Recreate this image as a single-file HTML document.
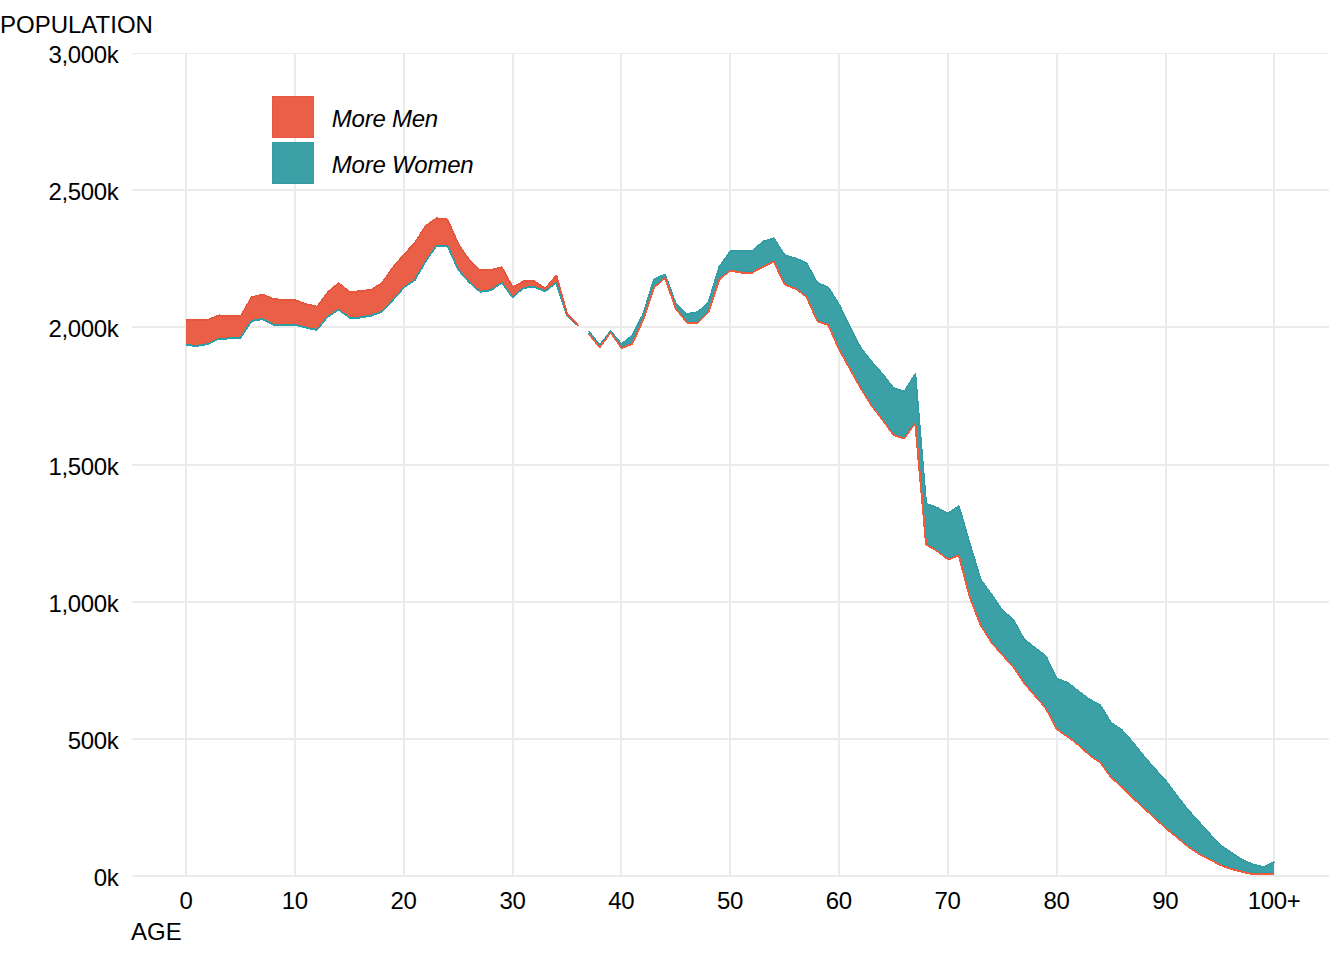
<!DOCTYPE html>
<html><head><meta charset="utf-8"><style>
html,body{margin:0;padding:0;background:#fff;width:1344px;height:960px;overflow:hidden;position:relative}
body{font-family:"Liberation Sans",sans-serif;color:#000}
.yl,.xl,.t{position:absolute;white-space:nowrap;line-height:0}
.yl{right:1225.5px;font-size:24px;text-align:right;height:0;letter-spacing:-0.34px}
.xl{top:901px;width:120px;text-align:center;font-size:24px;height:0;letter-spacing:-0.34px}
.t{font-size:24px;height:0}
.lg{position:absolute;font-size:24px;font-style:italic;line-height:0;height:0;white-space:nowrap;letter-spacing:-0.25px}
</style></head><body>
<svg width="1344" height="960" viewBox="0 0 1344 960" style="position:absolute;left:0;top:0"><defs><clipPath id="pc"><rect x="132" y="53" width="1197" height="824"/></clipPath></defs><g clip-path="url(#pc)" shape-rendering="crispEdges"><rect x="132" y="52" width="1197" height="2" fill="#EBEBEB"/><rect x="132" y="189" width="1197" height="2" fill="#EBEBEB"/><rect x="132" y="326" width="1197" height="2" fill="#EBEBEB"/><rect x="132" y="464" width="1197" height="2" fill="#EBEBEB"/><rect x="132" y="601" width="1197" height="2" fill="#EBEBEB"/><rect x="132" y="738" width="1197" height="2" fill="#EBEBEB"/><rect x="132" y="875" width="1197" height="2" fill="#EBEBEB"/><rect x="185" y="53" width="2" height="824" fill="#EBEBEB"/><rect x="294" y="53" width="2" height="824" fill="#EBEBEB"/><rect x="403" y="53" width="2" height="824" fill="#EBEBEB"/><rect x="512" y="53" width="2" height="824" fill="#EBEBEB"/><rect x="620" y="53" width="2" height="824" fill="#EBEBEB"/><rect x="729" y="53" width="2" height="824" fill="#EBEBEB"/><rect x="838" y="53" width="2" height="824" fill="#EBEBEB"/><rect x="947" y="53" width="2" height="824" fill="#EBEBEB"/><rect x="1056" y="53" width="2" height="824" fill="#EBEBEB"/><rect x="1165" y="53" width="2" height="824" fill="#EBEBEB"/><rect x="1273" y="53" width="2" height="824" fill="#EBEBEB"/></g><g clip-path="url(#pc)" stroke-linejoin="round" stroke-linecap="butt" fill="none" shape-rendering="crispEdges"><polygon points="186.30,320.10 197.18,320.10 208.06,319.70 218.94,315.40 229.82,316.30 240.70,316.10 251.58,297.30 262.46,294.50 273.34,298.90 284.22,300.20 295.10,300.20 305.98,304.20 316.86,306.70 327.74,292.20 338.62,283.00 349.50,292.00 360.38,291.30 371.26,289.80 382.14,282.90 393.02,267.30 403.90,254.50 414.78,243.10 425.66,225.80 436.54,218.40 447.42,219.40 458.30,244.10 469.18,259.90 480.06,270.30 490.94,270.10 501.82,267.30 512.70,287.30 523.58,281.30 534.46,281.30 545.34,288.50 556.22,275.30 567.10,314.00 577.98,325.60 577.98,325.80 567.10,315.30 556.22,282.70 545.34,291.40 534.46,286.90 523.58,287.80 512.70,297.50 501.82,282.80 490.94,290.30 480.06,291.70 469.18,282.20 458.30,269.80 447.42,245.80 436.54,245.80 425.66,261.40 414.78,280.20 403.90,287.60 393.02,300.00 382.14,311.60 371.26,315.60 360.38,317.50 349.50,317.50 338.62,309.80 327.74,316.70 316.86,330.00 305.98,327.60 295.10,324.90 284.22,324.90 273.34,324.90 262.46,319.20 251.58,320.90 240.70,337.70 229.82,338.40 218.94,338.80 208.06,343.90 197.18,345.90 186.30,345.00" fill="#EA5F47"/><path d="M186.30,343.00L197.18,343.90L197.18,345.90L186.30,345.00ZM197.18,343.90L208.06,341.90L208.06,343.90L197.18,345.90ZM208.06,341.90L218.94,336.80L218.94,338.80L208.06,343.90ZM218.94,336.80L229.82,336.40L229.82,338.40L218.94,338.80ZM229.82,336.40L240.70,335.70L240.70,337.70L229.82,338.40ZM239.70,336.70L250.58,319.90L252.58,319.90L241.70,336.70ZM251.58,318.90L262.46,317.20L262.46,319.20L251.58,320.90ZM262.46,317.20L273.34,322.90L273.34,324.90L262.46,319.20ZM273.34,322.90L284.22,322.90L284.22,324.90L273.34,324.90ZM284.22,322.90L295.10,322.90L295.10,324.90L284.22,324.90ZM295.10,322.90L305.98,325.60L305.98,327.60L295.10,324.90ZM305.98,325.60L316.86,328.00L316.86,330.00L305.98,327.60ZM315.86,329.00L326.74,315.70L328.74,315.70L317.86,329.00ZM327.74,314.70L338.62,307.80L338.62,309.80L327.74,316.70ZM338.62,307.80L349.50,315.50L349.50,317.50L338.62,309.80ZM349.50,315.50L360.38,315.50L360.38,317.50L349.50,317.50ZM360.38,315.50L371.26,313.60L371.26,315.60L360.38,317.50ZM371.26,313.60L382.14,309.60L382.14,311.60L371.26,315.60ZM381.14,310.60L392.02,299.00L394.02,299.00L383.14,310.60ZM392.02,299.00L402.90,286.60L404.90,286.60L394.02,299.00ZM403.90,285.60L414.78,278.20L414.78,280.20L403.90,287.60ZM413.78,279.20L424.66,260.40L426.66,260.40L415.78,279.20ZM424.66,260.40L435.54,244.80L437.54,244.80L426.66,260.40ZM436.54,243.80L447.42,243.80L447.42,245.80L436.54,245.80ZM446.42,244.80L457.30,268.80L459.30,268.80L448.42,244.80ZM457.30,268.80L468.18,281.20L470.18,281.20L459.30,268.80ZM469.18,280.20L480.06,289.70L480.06,291.70L469.18,282.20ZM480.06,289.70L490.94,288.30L490.94,290.30L480.06,291.70ZM490.94,288.30L501.82,280.80L501.82,282.80L490.94,290.30ZM500.82,281.80L511.70,296.50L513.70,296.50L502.82,281.80ZM512.70,295.50L523.58,285.80L523.58,287.80L512.70,297.50ZM523.58,285.80L534.46,284.90L534.46,286.90L523.58,287.80ZM534.46,284.90L545.34,289.40L545.34,291.40L534.46,286.90ZM545.34,289.40L556.22,280.70L556.22,282.70L545.34,291.40ZM555.22,281.70L566.10,314.30L568.10,314.30L557.22,281.70ZM567.10,313.30L577.98,323.80L577.98,325.80L567.10,315.30Z" fill="#F25A3C"/><polyline points="186.30,344.00 197.18,344.90 208.06,342.90 218.94,337.80 229.82,337.40 240.70,336.70 251.58,319.90 262.46,318.20 273.34,323.90 284.22,323.90 295.10,323.90 305.98,326.60 316.86,329.00 327.74,315.70 338.62,308.80 349.50,316.50 360.38,316.50 371.26,314.60 382.14,310.60 393.02,299.00 403.90,286.60 414.78,279.20 425.66,260.40 436.54,244.80 447.42,244.80 458.30,268.80 469.18,281.20 480.06,290.70 490.94,289.30 501.82,281.80 512.70,296.50 523.58,286.80 534.46,285.90 545.34,290.40 556.22,281.70 567.10,314.30 577.98,324.80" fill="none" stroke="#F25A3C" stroke-width="1.6" stroke-linejoin="round"/><path d="M186.30,344.00L197.18,344.90L197.18,346.90L186.30,346.00ZM197.18,344.90L208.06,342.90L208.06,344.90L197.18,346.90ZM208.06,342.90L218.94,337.80L218.94,339.80L208.06,344.90ZM218.94,337.80L229.82,337.40L229.82,339.40L218.94,339.80ZM229.82,337.40L240.70,336.70L240.70,338.70L229.82,339.40ZM239.70,337.70L250.58,320.90L252.58,320.90L241.70,337.70ZM251.58,319.90L262.46,318.20L262.46,320.20L251.58,321.90ZM262.46,318.20L273.34,323.90L273.34,325.90L262.46,320.20ZM273.34,323.90L284.22,323.90L284.22,325.90L273.34,325.90ZM284.22,323.90L295.10,323.90L295.10,325.90L284.22,325.90ZM295.10,323.90L305.98,326.60L305.98,328.60L295.10,325.90ZM305.98,326.60L316.86,329.00L316.86,331.00L305.98,328.60ZM315.86,330.00L326.74,316.70L328.74,316.70L317.86,330.00ZM327.74,315.70L338.62,308.80L338.62,310.80L327.74,317.70ZM338.62,308.80L349.50,316.50L349.50,318.50L338.62,310.80ZM349.50,316.50L360.38,316.50L360.38,318.50L349.50,318.50ZM360.38,316.50L371.26,314.60L371.26,316.60L360.38,318.50ZM371.26,314.60L382.14,310.60L382.14,312.60L371.26,316.60ZM381.14,311.60L392.02,300.00L394.02,300.00L383.14,311.60ZM392.02,300.00L402.90,287.60L404.90,287.60L394.02,300.00ZM403.90,286.60L414.78,279.20L414.78,281.20L403.90,288.60ZM413.78,280.20L424.66,261.40L426.66,261.40L415.78,280.20ZM424.66,261.40L435.54,245.80L437.54,245.80L426.66,261.40ZM436.54,244.80L447.42,244.80L447.42,246.80L436.54,246.80ZM446.42,245.80L457.30,269.80L459.30,269.80L448.42,245.80ZM457.30,269.80L468.18,282.20L470.18,282.20L459.30,269.80ZM469.18,281.20L480.06,290.70L480.06,292.70L469.18,283.20ZM480.06,290.70L490.94,289.30L490.94,291.30L480.06,292.70ZM490.94,289.30L501.82,281.80L501.82,283.80L490.94,291.30ZM500.82,282.80L511.70,297.50L513.70,297.50L502.82,282.80ZM512.70,296.50L523.58,286.80L523.58,288.80L512.70,298.50ZM523.58,286.80L534.46,285.90L534.46,287.90L523.58,288.80ZM534.46,285.90L545.34,290.40L545.34,292.40L534.46,287.90ZM545.34,290.40L556.22,281.70L556.22,283.70L545.34,292.40ZM555.22,282.70L566.10,315.30L568.10,315.30L557.22,282.70ZM567.10,314.30L577.98,324.80L577.98,326.80L567.10,316.30Z" fill="#28A0AA"/><polyline points="186.30,345.00 197.18,345.90 208.06,343.90 218.94,338.80 229.82,338.40 240.70,337.70 251.58,320.90 262.46,319.20 273.34,324.90 284.22,324.90 295.10,324.90 305.98,327.60 316.86,330.00 327.74,316.70 338.62,309.80 349.50,317.50 360.38,317.50 371.26,315.60 382.14,311.60 393.02,300.00 403.90,287.60 414.78,280.20 425.66,261.40 436.54,245.80 447.42,245.80 458.30,269.80 469.18,282.20 480.06,291.70 490.94,290.30 501.82,282.80 512.70,297.50 523.58,287.80 534.46,286.90 545.34,291.40 556.22,282.70 567.10,315.30 577.98,325.80" fill="none" stroke="#28A0AA" stroke-width="1.6" stroke-linejoin="round"/><path d="M186.30,319.10L197.18,319.10L197.18,321.10L186.30,321.10ZM197.18,319.10L208.06,318.70L208.06,320.70L197.18,321.10ZM208.06,318.70L218.94,314.40L218.94,316.40L208.06,320.70ZM218.94,314.40L229.82,315.30L229.82,317.30L218.94,316.40ZM229.82,315.30L240.70,315.10L240.70,317.10L229.82,317.30ZM239.70,316.10L250.58,297.30L252.58,297.30L241.70,316.10ZM251.58,296.30L262.46,293.50L262.46,295.50L251.58,298.30ZM262.46,293.50L273.34,297.90L273.34,299.90L262.46,295.50ZM273.34,297.90L284.22,299.20L284.22,301.20L273.34,299.90ZM284.22,299.20L295.10,299.20L295.10,301.20L284.22,301.20ZM295.10,299.20L305.98,303.20L305.98,305.20L295.10,301.20ZM305.98,303.20L316.86,305.70L316.86,307.70L305.98,305.20ZM315.86,306.70L326.74,292.20L328.74,292.20L317.86,306.70ZM327.74,291.20L338.62,282.00L338.62,284.00L327.74,293.20ZM338.62,282.00L349.50,291.00L349.50,293.00L338.62,284.00ZM349.50,291.00L360.38,290.30L360.38,292.30L349.50,293.00ZM360.38,290.30L371.26,288.80L371.26,290.80L360.38,292.30ZM371.26,288.80L382.14,281.90L382.14,283.90L371.26,290.80ZM381.14,282.90L392.02,267.30L394.02,267.30L383.14,282.90ZM392.02,267.30L402.90,254.50L404.90,254.50L394.02,267.30ZM402.90,254.50L413.78,243.10L415.78,243.10L404.90,254.50ZM413.78,243.10L424.66,225.80L426.66,225.80L415.78,243.10ZM425.66,224.80L436.54,217.40L436.54,219.40L425.66,226.80ZM436.54,217.40L447.42,218.40L447.42,220.40L436.54,219.40ZM446.42,219.40L457.30,244.10L459.30,244.10L448.42,219.40ZM457.30,244.10L468.18,259.90L470.18,259.90L459.30,244.10ZM469.18,258.90L480.06,269.30L480.06,271.30L469.18,260.90ZM480.06,269.30L490.94,269.10L490.94,271.10L480.06,271.30ZM490.94,269.10L501.82,266.30L501.82,268.30L490.94,271.10ZM500.82,267.30L511.70,287.30L513.70,287.30L502.82,267.30ZM512.70,286.30L523.58,280.30L523.58,282.30L512.70,288.30ZM523.58,280.30L534.46,280.30L534.46,282.30L523.58,282.30ZM534.46,280.30L545.34,287.50L545.34,289.50L534.46,282.30ZM544.34,288.50L555.22,275.30L557.22,275.30L546.34,288.50ZM555.22,275.30L566.10,314.00L568.10,314.00L557.22,275.30ZM566.10,314.00L576.98,325.60L578.98,325.60L568.10,314.00Z" fill="#E6563C"/><polyline points="186.30,320.10 197.18,320.10 208.06,319.70 218.94,315.40 229.82,316.30 240.70,316.10 251.58,297.30 262.46,294.50 273.34,298.90 284.22,300.20 295.10,300.20 305.98,304.20 316.86,306.70 327.74,292.20 338.62,283.00 349.50,292.00 360.38,291.30 371.26,289.80 382.14,282.90 393.02,267.30 403.90,254.50 414.78,243.10 425.66,225.80 436.54,218.40 447.42,219.40 458.30,244.10 469.18,259.90 480.06,270.30 490.94,270.10 501.82,267.30 512.70,287.30 523.58,281.30 534.46,281.30 545.34,288.50 556.22,275.30 567.10,314.00 577.98,325.60" fill="none" stroke="#E6563C" stroke-width="1.6" stroke-linejoin="round"/><polygon points="588.86,331.20 599.74,345.00 610.62,331.00 621.50,344.10 632.38,335.40 643.26,314.10 654.14,279.10 665.02,274.50 675.90,304.10 686.78,314.10 697.66,312.30 708.54,302.30 719.42,266.60 730.30,251.30 741.18,251.30 752.06,251.30 762.94,241.60 773.82,238.30 784.70,255.10 795.58,258.50 806.46,262.90 817.34,282.90 828.22,287.30 839.10,304.50 849.98,327.20 860.86,348.00 871.74,361.80 882.62,374.00 893.50,388.00 904.38,391.50 915.26,374.00 926.14,503.90 937.02,507.70 947.90,513.50 958.78,506.00 969.66,543.50 980.54,579.30 991.42,594.30 1002.30,610.20 1013.18,619.30 1024.06,639.30 1034.94,647.70 1045.82,656.00 1056.70,678.50 1067.58,682.70 1078.46,691.00 1089.34,699.30 1100.22,705.20 1111.10,722.70 1121.98,730.00 1132.86,742.30 1143.74,756.00 1154.62,768.50 1165.50,780.40 1176.38,794.80 1187.26,809.00 1198.14,821.00 1209.02,833.00 1219.90,844.80 1230.78,852.20 1241.66,859.30 1252.54,864.40 1263.42,867.10 1274.30,862.00 1274.30,874.00 1263.42,874.00 1252.54,874.00 1241.66,871.80 1230.78,868.80 1219.90,864.90 1209.02,859.10 1198.14,853.60 1187.26,846.00 1176.38,837.00 1165.50,828.00 1154.62,818.00 1143.74,808.00 1132.86,798.00 1121.98,787.00 1111.10,777.50 1100.22,762.50 1089.34,755.00 1078.46,745.00 1067.58,736.70 1056.70,729.20 1045.82,708.30 1034.94,695.80 1024.06,683.30 1013.18,666.70 1002.30,655.00 991.42,642.50 980.54,625.00 969.66,596.70 958.78,555.60 947.90,559.50 937.02,550.80 926.14,544.60 915.26,423.20 904.38,438.40 893.50,435.20 882.62,420.00 871.74,406.00 860.86,388.50 849.98,369.00 839.10,349.50 828.22,324.80 817.34,321.30 806.46,296.90 795.58,288.80 784.70,284.40 773.82,261.70 762.94,266.90 752.06,272.80 741.18,272.50 730.30,270.60 719.42,279.40 708.54,311.90 697.66,322.50 686.78,322.50 675.90,308.80 665.02,278.10 654.14,287.50 643.26,319.40 632.38,343.80 621.50,348.10 610.62,332.60 599.74,347.50 588.86,334.00" fill="#3CA0A7"/><path d="M587.86,331.20L598.74,345.00L600.74,345.00L589.86,331.20ZM598.74,345.00L609.62,331.00L611.62,331.00L600.74,345.00ZM609.62,331.00L620.50,344.10L622.50,344.10L611.62,331.00ZM621.50,343.10L632.38,334.40L632.38,336.40L621.50,345.10ZM631.38,335.40L642.26,314.10L644.26,314.10L633.38,335.40ZM642.26,314.10L653.14,279.10L655.14,279.10L644.26,314.10ZM654.14,278.10L665.02,273.50L665.02,275.50L654.14,280.10ZM664.02,274.50L674.90,304.10L676.90,304.10L666.02,274.50ZM675.90,303.10L686.78,313.10L686.78,315.10L675.90,305.10ZM686.78,313.10L697.66,311.30L697.66,313.30L686.78,315.10ZM697.66,311.30L708.54,301.30L708.54,303.30L697.66,313.30ZM707.54,302.30L718.42,266.60L720.42,266.60L709.54,302.30ZM718.42,266.60L729.30,251.30L731.30,251.30L720.42,266.60ZM730.30,250.30L741.18,250.30L741.18,252.30L730.30,252.30ZM741.18,250.30L752.06,250.30L752.06,252.30L741.18,252.30ZM752.06,250.30L762.94,240.60L762.94,242.60L752.06,252.30ZM762.94,240.60L773.82,237.30L773.82,239.30L762.94,242.60ZM772.82,238.30L783.70,255.10L785.70,255.10L774.82,238.30ZM784.70,254.10L795.58,257.50L795.58,259.50L784.70,256.10ZM795.58,257.50L806.46,261.90L806.46,263.90L795.58,259.50ZM805.46,262.90L816.34,282.90L818.34,282.90L807.46,262.90ZM817.34,281.90L828.22,286.30L828.22,288.30L817.34,283.90ZM827.22,287.30L838.10,304.50L840.10,304.50L829.22,287.30ZM838.10,304.50L848.98,327.20L850.98,327.20L840.10,304.50ZM848.98,327.20L859.86,348.00L861.86,348.00L850.98,327.20ZM859.86,348.00L870.74,361.80L872.74,361.80L861.86,348.00ZM870.74,361.80L881.62,374.00L883.62,374.00L872.74,361.80ZM881.62,374.00L892.50,388.00L894.50,388.00L883.62,374.00ZM893.50,387.00L904.38,390.50L904.38,392.50L893.50,389.00ZM903.38,391.50L914.26,374.00L916.26,374.00L905.38,391.50ZM914.26,374.00L925.14,503.90L927.14,503.90L916.26,374.00ZM926.14,502.90L937.02,506.70L937.02,508.70L926.14,504.90ZM937.02,506.70L947.90,512.50L947.90,514.50L937.02,508.70ZM947.90,512.50L958.78,505.00L958.78,507.00L947.90,514.50ZM957.78,506.00L968.66,543.50L970.66,543.50L959.78,506.00ZM968.66,543.50L979.54,579.30L981.54,579.30L970.66,543.50ZM979.54,579.30L990.42,594.30L992.42,594.30L981.54,579.30ZM990.42,594.30L1001.30,610.20L1003.30,610.20L992.42,594.30ZM1002.30,609.20L1013.18,618.30L1013.18,620.30L1002.30,611.20ZM1012.18,619.30L1023.06,639.30L1025.06,639.30L1014.18,619.30ZM1024.06,638.30L1034.94,646.70L1034.94,648.70L1024.06,640.30ZM1034.94,646.70L1045.82,655.00L1045.82,657.00L1034.94,648.70ZM1044.82,656.00L1055.70,678.50L1057.70,678.50L1046.82,656.00ZM1056.70,677.50L1067.58,681.70L1067.58,683.70L1056.70,679.50ZM1067.58,681.70L1078.46,690.00L1078.46,692.00L1067.58,683.70ZM1078.46,690.00L1089.34,698.30L1089.34,700.30L1078.46,692.00ZM1089.34,698.30L1100.22,704.20L1100.22,706.20L1089.34,700.30ZM1099.22,705.20L1110.10,722.70L1112.10,722.70L1101.22,705.20ZM1111.10,721.70L1121.98,729.00L1121.98,731.00L1111.10,723.70ZM1120.98,730.00L1131.86,742.30L1133.86,742.30L1122.98,730.00ZM1131.86,742.30L1142.74,756.00L1144.74,756.00L1133.86,742.30ZM1142.74,756.00L1153.62,768.50L1155.62,768.50L1144.74,756.00ZM1153.62,768.50L1164.50,780.40L1166.50,780.40L1155.62,768.50ZM1164.50,780.40L1175.38,794.80L1177.38,794.80L1166.50,780.40ZM1175.38,794.80L1186.26,809.00L1188.26,809.00L1177.38,794.80ZM1186.26,809.00L1197.14,821.00L1199.14,821.00L1188.26,809.00ZM1197.14,821.00L1208.02,833.00L1210.02,833.00L1199.14,821.00ZM1208.02,833.00L1218.90,844.80L1220.90,844.80L1210.02,833.00ZM1219.90,843.80L1230.78,851.20L1230.78,853.20L1219.90,845.80ZM1230.78,851.20L1241.66,858.30L1241.66,860.30L1230.78,853.20ZM1241.66,858.30L1252.54,863.40L1252.54,865.40L1241.66,860.30ZM1252.54,863.40L1263.42,866.10L1263.42,868.10L1252.54,865.40ZM1263.42,866.10L1274.30,861.00L1274.30,863.00L1263.42,868.10Z" fill="#349CA3"/><polyline points="588.86,331.20 599.74,345.00 610.62,331.00 621.50,344.10 632.38,335.40 643.26,314.10 654.14,279.10 665.02,274.50 675.90,304.10 686.78,314.10 697.66,312.30 708.54,302.30 719.42,266.60 730.30,251.30 741.18,251.30 752.06,251.30 762.94,241.60 773.82,238.30 784.70,255.10 795.58,258.50 806.46,262.90 817.34,282.90 828.22,287.30 839.10,304.50 849.98,327.20 860.86,348.00 871.74,361.80 882.62,374.00 893.50,388.00 904.38,391.50 915.26,374.00 926.14,503.90 937.02,507.70 947.90,513.50 958.78,506.00 969.66,543.50 980.54,579.30 991.42,594.30 1002.30,610.20 1013.18,619.30 1024.06,639.30 1034.94,647.70 1045.82,656.00 1056.70,678.50 1067.58,682.70 1078.46,691.00 1089.34,699.30 1100.22,705.20 1111.10,722.70 1121.98,730.00 1132.86,742.30 1143.74,756.00 1154.62,768.50 1165.50,780.40 1176.38,794.80 1187.26,809.00 1198.14,821.00 1209.02,833.00 1219.90,844.80 1230.78,852.20 1241.66,859.30 1252.54,864.40 1263.42,867.10 1274.30,862.00" fill="none" stroke="#349CA3" stroke-width="1.6" stroke-linejoin="round"/><path d="M587.86,333.00L598.74,346.50L600.74,346.50L589.86,333.00ZM598.74,346.50L609.62,331.60L611.62,331.60L600.74,346.50ZM609.62,331.60L620.50,347.10L622.50,347.10L611.62,331.60ZM621.50,346.10L632.38,341.80L632.38,343.80L621.50,348.10ZM631.38,342.80L642.26,318.40L644.26,318.40L633.38,342.80ZM642.26,318.40L653.14,286.50L655.14,286.50L644.26,318.40ZM654.14,285.50L665.02,276.10L665.02,278.10L654.14,287.50ZM664.02,277.10L674.90,307.80L676.90,307.80L666.02,277.10ZM674.90,307.80L685.78,321.50L687.78,321.50L676.90,307.80ZM686.78,320.50L697.66,320.50L697.66,322.50L686.78,322.50ZM697.66,320.50L708.54,309.90L708.54,311.90L697.66,322.50ZM707.54,310.90L718.42,278.40L720.42,278.40L709.54,310.90ZM719.42,277.40L730.30,268.60L730.30,270.60L719.42,279.40ZM730.30,268.60L741.18,270.50L741.18,272.50L730.30,270.60ZM741.18,270.50L752.06,270.80L752.06,272.80L741.18,272.50ZM752.06,270.80L762.94,264.90L762.94,266.90L752.06,272.80ZM762.94,264.90L773.82,259.70L773.82,261.70L762.94,266.90ZM772.82,260.70L783.70,283.40L785.70,283.40L774.82,260.70ZM784.70,282.40L795.58,286.80L795.58,288.80L784.70,284.40ZM795.58,286.80L806.46,294.90L806.46,296.90L795.58,288.80ZM805.46,295.90L816.34,320.30L818.34,320.30L807.46,295.90ZM817.34,319.30L828.22,322.80L828.22,324.80L817.34,321.30ZM827.22,323.80L838.10,348.50L840.10,348.50L829.22,323.80ZM838.10,348.50L848.98,368.00L850.98,368.00L840.10,348.50ZM848.98,368.00L859.86,387.50L861.86,387.50L850.98,368.00ZM859.86,387.50L870.74,405.00L872.74,405.00L861.86,387.50ZM870.74,405.00L881.62,419.00L883.62,419.00L872.74,405.00ZM881.62,419.00L892.50,434.20L894.50,434.20L883.62,419.00ZM893.50,433.20L904.38,436.40L904.38,438.40L893.50,435.20ZM903.38,437.40L914.26,422.20L916.26,422.20L905.38,437.40ZM914.26,422.20L925.14,543.60L927.14,543.60L916.26,422.20ZM926.14,542.60L937.02,548.80L937.02,550.80L926.14,544.60ZM937.02,548.80L947.90,557.50L947.90,559.50L937.02,550.80ZM947.90,557.50L958.78,553.60L958.78,555.60L947.90,559.50ZM957.78,554.60L968.66,595.70L970.66,595.70L959.78,554.60ZM968.66,595.70L979.54,624.00L981.54,624.00L970.66,595.70ZM979.54,624.00L990.42,641.50L992.42,641.50L981.54,624.00ZM990.42,641.50L1001.30,654.00L1003.30,654.00L992.42,641.50ZM1001.30,654.00L1012.18,665.70L1014.18,665.70L1003.30,654.00ZM1012.18,665.70L1023.06,682.30L1025.06,682.30L1014.18,665.70ZM1023.06,682.30L1033.94,694.80L1035.94,694.80L1025.06,682.30ZM1033.94,694.80L1044.82,707.30L1046.82,707.30L1035.94,694.80ZM1044.82,707.30L1055.70,728.20L1057.70,728.20L1046.82,707.30ZM1056.70,727.20L1067.58,734.70L1067.58,736.70L1056.70,729.20ZM1067.58,734.70L1078.46,743.00L1078.46,745.00L1067.58,736.70ZM1078.46,743.00L1089.34,753.00L1089.34,755.00L1078.46,745.00ZM1089.34,753.00L1100.22,760.50L1100.22,762.50L1089.34,755.00ZM1099.22,761.50L1110.10,776.50L1112.10,776.50L1101.22,761.50ZM1111.10,775.50L1121.98,785.00L1121.98,787.00L1111.10,777.50ZM1120.98,786.00L1131.86,797.00L1133.86,797.00L1122.98,786.00ZM1132.86,796.00L1143.74,806.00L1143.74,808.00L1132.86,798.00ZM1143.74,806.00L1154.62,816.00L1154.62,818.00L1143.74,808.00ZM1154.62,816.00L1165.50,826.00L1165.50,828.00L1154.62,818.00ZM1165.50,826.00L1176.38,835.00L1176.38,837.00L1165.50,828.00ZM1176.38,835.00L1187.26,844.00L1187.26,846.00L1176.38,837.00ZM1187.26,844.00L1198.14,851.60L1198.14,853.60L1187.26,846.00ZM1198.14,851.60L1209.02,857.10L1209.02,859.10L1198.14,853.60ZM1209.02,857.10L1219.90,862.90L1219.90,864.90L1209.02,859.10ZM1219.90,862.90L1230.78,866.80L1230.78,868.80L1219.90,864.90ZM1230.78,866.80L1241.66,869.80L1241.66,871.80L1230.78,868.80ZM1241.66,869.80L1252.54,872.00L1252.54,874.00L1241.66,871.80ZM1252.54,872.00L1263.42,872.00L1263.42,874.00L1252.54,874.00ZM1263.42,872.00L1274.30,872.00L1274.30,874.00L1263.42,874.00Z" fill="#28A0AA"/><polyline points="588.86,333.00 599.74,346.50 610.62,331.60 621.50,347.10 632.38,342.80 643.26,318.40 654.14,286.50 665.02,277.10 675.90,307.80 686.78,321.50 697.66,321.50 708.54,310.90 719.42,278.40 730.30,269.60 741.18,271.50 752.06,271.80 762.94,265.90 773.82,260.70 784.70,283.40 795.58,287.80 806.46,295.90 817.34,320.30 828.22,323.80 839.10,348.50 849.98,368.00 860.86,387.50 871.74,405.00 882.62,419.00 893.50,434.20 904.38,437.40 915.26,422.20 926.14,543.60 937.02,549.80 947.90,558.50 958.78,554.60 969.66,595.70 980.54,624.00 991.42,641.50 1002.30,654.00 1013.18,665.70 1024.06,682.30 1034.94,694.80 1045.82,707.30 1056.70,728.20 1067.58,735.70 1078.46,744.00 1089.34,754.00 1100.22,761.50 1111.10,776.50 1121.98,786.00 1132.86,797.00 1143.74,807.00 1154.62,817.00 1165.50,827.00 1176.38,836.00 1187.26,845.00 1198.14,852.60 1209.02,858.10 1219.90,863.90 1230.78,867.80 1241.66,870.80 1252.54,873.00 1263.42,873.00 1274.30,873.00" fill="none" stroke="#28A0AA" stroke-width="1.6" stroke-linejoin="round"/><path d="M587.86,334.00L598.74,347.50L600.74,347.50L589.86,334.00ZM598.74,347.50L609.62,332.60L611.62,332.60L600.74,347.50ZM609.62,332.60L620.50,348.10L622.50,348.10L611.62,332.60ZM621.50,347.10L632.38,342.80L632.38,344.80L621.50,349.10ZM631.38,343.80L642.26,319.40L644.26,319.40L633.38,343.80ZM642.26,319.40L653.14,287.50L655.14,287.50L644.26,319.40ZM654.14,286.50L665.02,277.10L665.02,279.10L654.14,288.50ZM664.02,278.10L674.90,308.80L676.90,308.80L666.02,278.10ZM674.90,308.80L685.78,322.50L687.78,322.50L676.90,308.80ZM686.78,321.50L697.66,321.50L697.66,323.50L686.78,323.50ZM697.66,321.50L708.54,310.90L708.54,312.90L697.66,323.50ZM707.54,311.90L718.42,279.40L720.42,279.40L709.54,311.90ZM719.42,278.40L730.30,269.60L730.30,271.60L719.42,280.40ZM730.30,269.60L741.18,271.50L741.18,273.50L730.30,271.60ZM741.18,271.50L752.06,271.80L752.06,273.80L741.18,273.50ZM752.06,271.80L762.94,265.90L762.94,267.90L752.06,273.80ZM762.94,265.90L773.82,260.70L773.82,262.70L762.94,267.90ZM772.82,261.70L783.70,284.40L785.70,284.40L774.82,261.70ZM784.70,283.40L795.58,287.80L795.58,289.80L784.70,285.40ZM795.58,287.80L806.46,295.90L806.46,297.90L795.58,289.80ZM805.46,296.90L816.34,321.30L818.34,321.30L807.46,296.90ZM817.34,320.30L828.22,323.80L828.22,325.80L817.34,322.30ZM827.22,324.80L838.10,349.50L840.10,349.50L829.22,324.80ZM838.10,349.50L848.98,369.00L850.98,369.00L840.10,349.50ZM848.98,369.00L859.86,388.50L861.86,388.50L850.98,369.00ZM859.86,388.50L870.74,406.00L872.74,406.00L861.86,388.50ZM870.74,406.00L881.62,420.00L883.62,420.00L872.74,406.00ZM881.62,420.00L892.50,435.20L894.50,435.20L883.62,420.00ZM893.50,434.20L904.38,437.40L904.38,439.40L893.50,436.20ZM903.38,438.40L914.26,423.20L916.26,423.20L905.38,438.40ZM914.26,423.20L925.14,544.60L927.14,544.60L916.26,423.20ZM926.14,543.60L937.02,549.80L937.02,551.80L926.14,545.60ZM937.02,549.80L947.90,558.50L947.90,560.50L937.02,551.80ZM947.90,558.50L958.78,554.60L958.78,556.60L947.90,560.50ZM957.78,555.60L968.66,596.70L970.66,596.70L959.78,555.60ZM968.66,596.70L979.54,625.00L981.54,625.00L970.66,596.70ZM979.54,625.00L990.42,642.50L992.42,642.50L981.54,625.00ZM990.42,642.50L1001.30,655.00L1003.30,655.00L992.42,642.50ZM1001.30,655.00L1012.18,666.70L1014.18,666.70L1003.30,655.00ZM1012.18,666.70L1023.06,683.30L1025.06,683.30L1014.18,666.70ZM1023.06,683.30L1033.94,695.80L1035.94,695.80L1025.06,683.30ZM1033.94,695.80L1044.82,708.30L1046.82,708.30L1035.94,695.80ZM1044.82,708.30L1055.70,729.20L1057.70,729.20L1046.82,708.30ZM1056.70,728.20L1067.58,735.70L1067.58,737.70L1056.70,730.20ZM1067.58,735.70L1078.46,744.00L1078.46,746.00L1067.58,737.70ZM1078.46,744.00L1089.34,754.00L1089.34,756.00L1078.46,746.00ZM1089.34,754.00L1100.22,761.50L1100.22,763.50L1089.34,756.00ZM1099.22,762.50L1110.10,777.50L1112.10,777.50L1101.22,762.50ZM1111.10,776.50L1121.98,786.00L1121.98,788.00L1111.10,778.50ZM1120.98,787.00L1131.86,798.00L1133.86,798.00L1122.98,787.00ZM1132.86,797.00L1143.74,807.00L1143.74,809.00L1132.86,799.00ZM1143.74,807.00L1154.62,817.00L1154.62,819.00L1143.74,809.00ZM1154.62,817.00L1165.50,827.00L1165.50,829.00L1154.62,819.00ZM1165.50,827.00L1176.38,836.00L1176.38,838.00L1165.50,829.00ZM1176.38,836.00L1187.26,845.00L1187.26,847.00L1176.38,838.00ZM1187.26,845.00L1198.14,852.60L1198.14,854.60L1187.26,847.00ZM1198.14,852.60L1209.02,858.10L1209.02,860.10L1198.14,854.60ZM1209.02,858.10L1219.90,863.90L1219.90,865.90L1209.02,860.10ZM1219.90,863.90L1230.78,867.80L1230.78,869.80L1219.90,865.90ZM1230.78,867.80L1241.66,870.80L1241.66,872.80L1230.78,869.80ZM1241.66,870.80L1252.54,873.00L1252.54,875.00L1241.66,872.80ZM1252.54,873.00L1263.42,873.00L1263.42,875.00L1252.54,875.00ZM1263.42,873.00L1274.30,873.00L1274.30,875.00L1263.42,875.00Z" fill="#F25A3C"/><polyline points="588.86,334.00 599.74,347.50 610.62,332.60 621.50,348.10 632.38,343.80 643.26,319.40 654.14,287.50 665.02,278.10 675.90,308.80 686.78,322.50 697.66,322.50 708.54,311.90 719.42,279.40 730.30,270.60 741.18,272.50 752.06,272.80 762.94,266.90 773.82,261.70 784.70,284.40 795.58,288.80 806.46,296.90 817.34,321.30 828.22,324.80 839.10,349.50 849.98,369.00 860.86,388.50 871.74,406.00 882.62,420.00 893.50,435.20 904.38,438.40 915.26,423.20 926.14,544.60 937.02,550.80 947.90,559.50 958.78,555.60 969.66,596.70 980.54,625.00 991.42,642.50 1002.30,655.00 1013.18,666.70 1024.06,683.30 1034.94,695.80 1045.82,708.30 1056.70,729.20 1067.58,736.70 1078.46,745.00 1089.34,755.00 1100.22,762.50 1111.10,777.50 1121.98,787.00 1132.86,798.00 1143.74,808.00 1154.62,818.00 1165.50,828.00 1176.38,837.00 1187.26,846.00 1198.14,853.60 1209.02,859.10 1219.90,864.90 1230.78,868.80 1241.66,871.80 1252.54,874.00 1263.42,874.00 1274.30,874.00" fill="none" stroke="#F25A3C" stroke-width="1.6" stroke-linejoin="round"/></g><rect x="272.5" y="96.5" width="41" height="41" fill="#EA5F47" stroke="#E9583E" stroke-width="1"/><rect x="272.5" y="142.5" width="41" height="41" fill="#3CA0A7" stroke="#349DA4" stroke-width="1"/></svg>
<div class="t" style="left:0px;top:25px">POPULATION</div>
<div class="t" style="left:131px;top:932px">AGE</div>
<div class="lg" style="left:331.8px;top:119px">More Men</div>
<div class="lg" style="left:331.8px;top:165px">More Women</div>
<div class="yl" style="top:55px">3,000k</div><div class="yl" style="top:192px">2,500k</div><div class="yl" style="top:329px">2,000k</div><div class="yl" style="top:467px">1,500k</div><div class="yl" style="top:604px">1,000k</div><div class="yl" style="top:741px">500k</div><div class="yl" style="top:878px">0k</div><div class="xl" style="left:126.0px">0</div><div class="xl" style="left:234.8px">10</div><div class="xl" style="left:343.6px">20</div><div class="xl" style="left:452.4px">30</div><div class="xl" style="left:561.2px">40</div><div class="xl" style="left:670.0px">50</div><div class="xl" style="left:778.8px">60</div><div class="xl" style="left:887.6px">70</div><div class="xl" style="left:996.4px">80</div><div class="xl" style="left:1105.2px">90</div><div class="xl" style="left:1214.0px">100+</div>
</body></html>
